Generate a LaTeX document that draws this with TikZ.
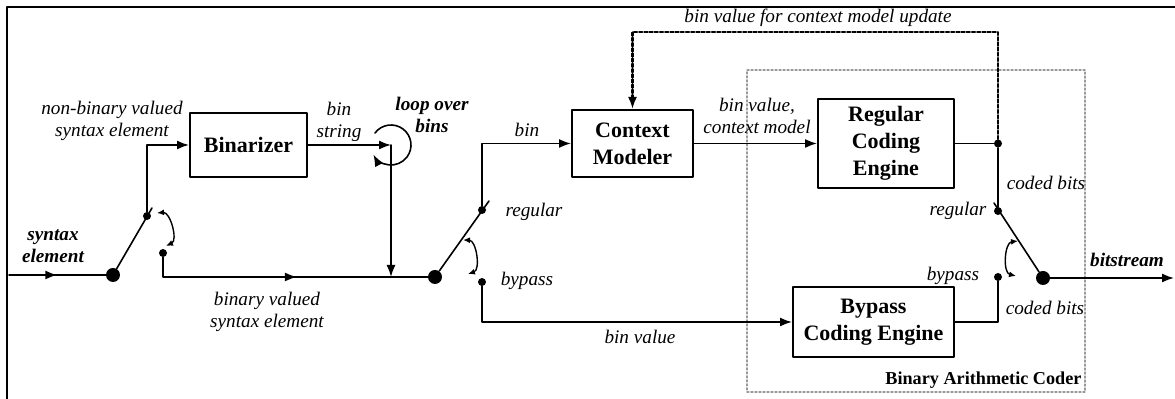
\documentclass[tikz,border=0pt]{standalone}
\usepackage{fontspec}
\setmainfont{Liberation Serif}
\usetikzlibrary{arrows.meta,decorations.markings}

\tikzset{
  blk/.style={draw,line width=1pt,align=center,inner sep=0pt,
    font=\fontsize{11}{13.5}\selectfont\bfseries},
  lbl/.style={align=center,inner sep=1pt,font=\fontsize{9.6}{11.3}\selectfont\itshape},
  blbl/.style={align=center,inner sep=1pt,font=\fontsize{9.6}{11.3}\selectfont\bfseries\itshape},
  wire/.style={line width=0.8pt},
  tip/.style={-{Latex[length=6pt,width=4.5pt]}},
  midtip/.style={postaction={decorate},decoration={markings,
    mark=at position #1 with {\arrow{Latex[length=6pt,width=4.5pt]}}}},
  swarc/.style={line width=0.7pt,{Latex[length=3.5pt,width=3pt]}-{Latex[length=3.5pt,width=3pt]}},
  bigdot/.style={circle,fill,inner sep=0pt,minimum size=7pt},
  smalldot/.style={circle,fill,inner sep=0pt,minimum size=4pt},
}

\begin{document}
\begin{tikzpicture}[x=0.5pt,y=-0.5pt,line cap=round,line join=round]
  \useasboundingbox (0,0) rectangle (1175,399);
  % frame
  \draw[line width=1pt] (7,399) -- (7,7) -- (1175,7);

  % Binary Arithmetic Coder (dotted box)
  \node[draw=gray!80,line width=0.9pt,dash pattern=on 0.9pt off 1.1pt,minimum width=169pt,minimum height=161pt] (bac) at (916,231) {};
  \node[anchor=south east,inner sep=2pt,font=\fontsize{9.1}{11}\selectfont\bfseries] (baclbl) at (bac.south east) {Binary Arithmetic Coder};

  % blocks
  \node[blk,minimum width=58.5pt,minimum height=32pt] (bz) at (248.5,145) {Binarizer};
  \node[blk,minimum width=60.5pt,minimum height=33.5pt] (cm) at (632.5,143.5) {Context\\Modeler};
  \node[blk,minimum width=68pt,minimum height=44.5pt] (rc) at (886,143.5) {Regular\\Coding\\Engine};
  \node[blk,minimum width=80.5pt,minimum height=35pt] (bp) at (873.5,322) {Bypass\\Coding Engine};

  % switch 1
  \coordinate (in) at (9,275);
  \node[bigdot] (sw1) at (113,275) {};
  \node[smalldot] (sw1up) at (147,216) {};
  \node[smalldot] (sw1dn) at (163,253) {};
  \coordinate (sw1tip) at (152,208);
  \draw[wire,midtip=0.5] (in) -- (sw1);
  \draw[wire] (sw1) -- (sw1tip);
  \draw[swarc] (157,213) to[bend left=80] (166,246);
  \draw[wire,tip] (sw1up) |- (bz.west);

  % loop over bins
  \coordinate (lp) at (391,145);
  \coordinate (merge) at (391,277);
  \node[bigdot] (sw2) at (435,277) {};
  \draw[wire,tip] (bz.east) -- (lp);
  \draw[line width=0.8pt,tip] ([shift={(143:10pt)}]lp) arc[start angle=143,end angle=-152,radius=10pt];
  \draw[wire,tip] (lp) -- (merge);
  \draw[wire,midtip=0.54] (sw1dn) |- (sw2);

  % switch 2
  \node[smalldot] (sw2up) at (482,210) {};
  \node[smalldot] (sw2dn) at (482,282) {};
  \coordinate (sw2tip) at (489,201);
  \draw[wire] (sw2) -- (sw2tip);
  \draw[swarc] (463,240) to[bend left=80] (468,274);
  \draw[wire,tip] (sw2up) |- (cm.west);
  \draw[wire,tip] (sw2dn) |- (bp.west);
  \draw[wire,tip] (cm.east) -- (rc.west);

  % switch 3
  \node[smalldot] (fb) at (998,143.5) {};
  \node[smalldot] (sw3up) at (998,211) {};
  \node[smalldot] (sw3dn) at (998,277) {};
  \node[bigdot] (sw3) at (1043,278) {};
  \coordinate (sw3tip) at (994,203);
  \coordinate (out) at (1174,278);
  \draw[wire] (rc.east) -- (fb) -- (sw3up);
  \draw[wire] (bp.east) -| (sw3dn);
  \draw[wire] (sw3) -- (sw3tip);
  \draw[swarc] (1018,241) to[bend right=80] (1016,276);
  \draw[wire,tip] (sw3) -- (out);

  % context model update
  \coordinate (fbtop) at (998,32);
  \draw[line width=1.1pt,dash pattern=on 1.6pt off 1pt,tip] (fb) -- (fbtop) -| (cm.north);

  % labels
  \node[lbl] (nonbin) at (112,121) {non-binary valued\\syntax element};
  \node[blbl] (synel) at (53,246) {syntax\\element};
  \node[lbl] (binval) at (267,312) {binary valued\\syntax element};
  \node[lbl] (binstr) at (339,122) {bin\\string};
  \node[blbl] (loopb) at (432,115) {loop over\\bins};
  \node[lbl] (binl) at (527,130) {bin};
  \node[lbl] (reg2) at (534,212) {regular};
  \node[lbl] (byp2) at (527,281) {bypass};
  \node[lbl] (binvalue) at (640,337) {bin value};
  \node[lbl] (bvcm) at (757,116) {bin value,\\context model};
  \node[lbl] (upd) at (818,18) {bin value for context model update};
  \node[lbl] (coded1) at (1046,183) {coded bits};
  \node[lbl] (reg3) at (958,211) {regular};
  \node[lbl] (byp3) at (953,276) {bypass};
  \node[lbl] (coded2) at (1045,308) {coded bits};
  \node[blbl] (bits) at (1127,260) {bitstream};
\end{tikzpicture}
\end{document}
